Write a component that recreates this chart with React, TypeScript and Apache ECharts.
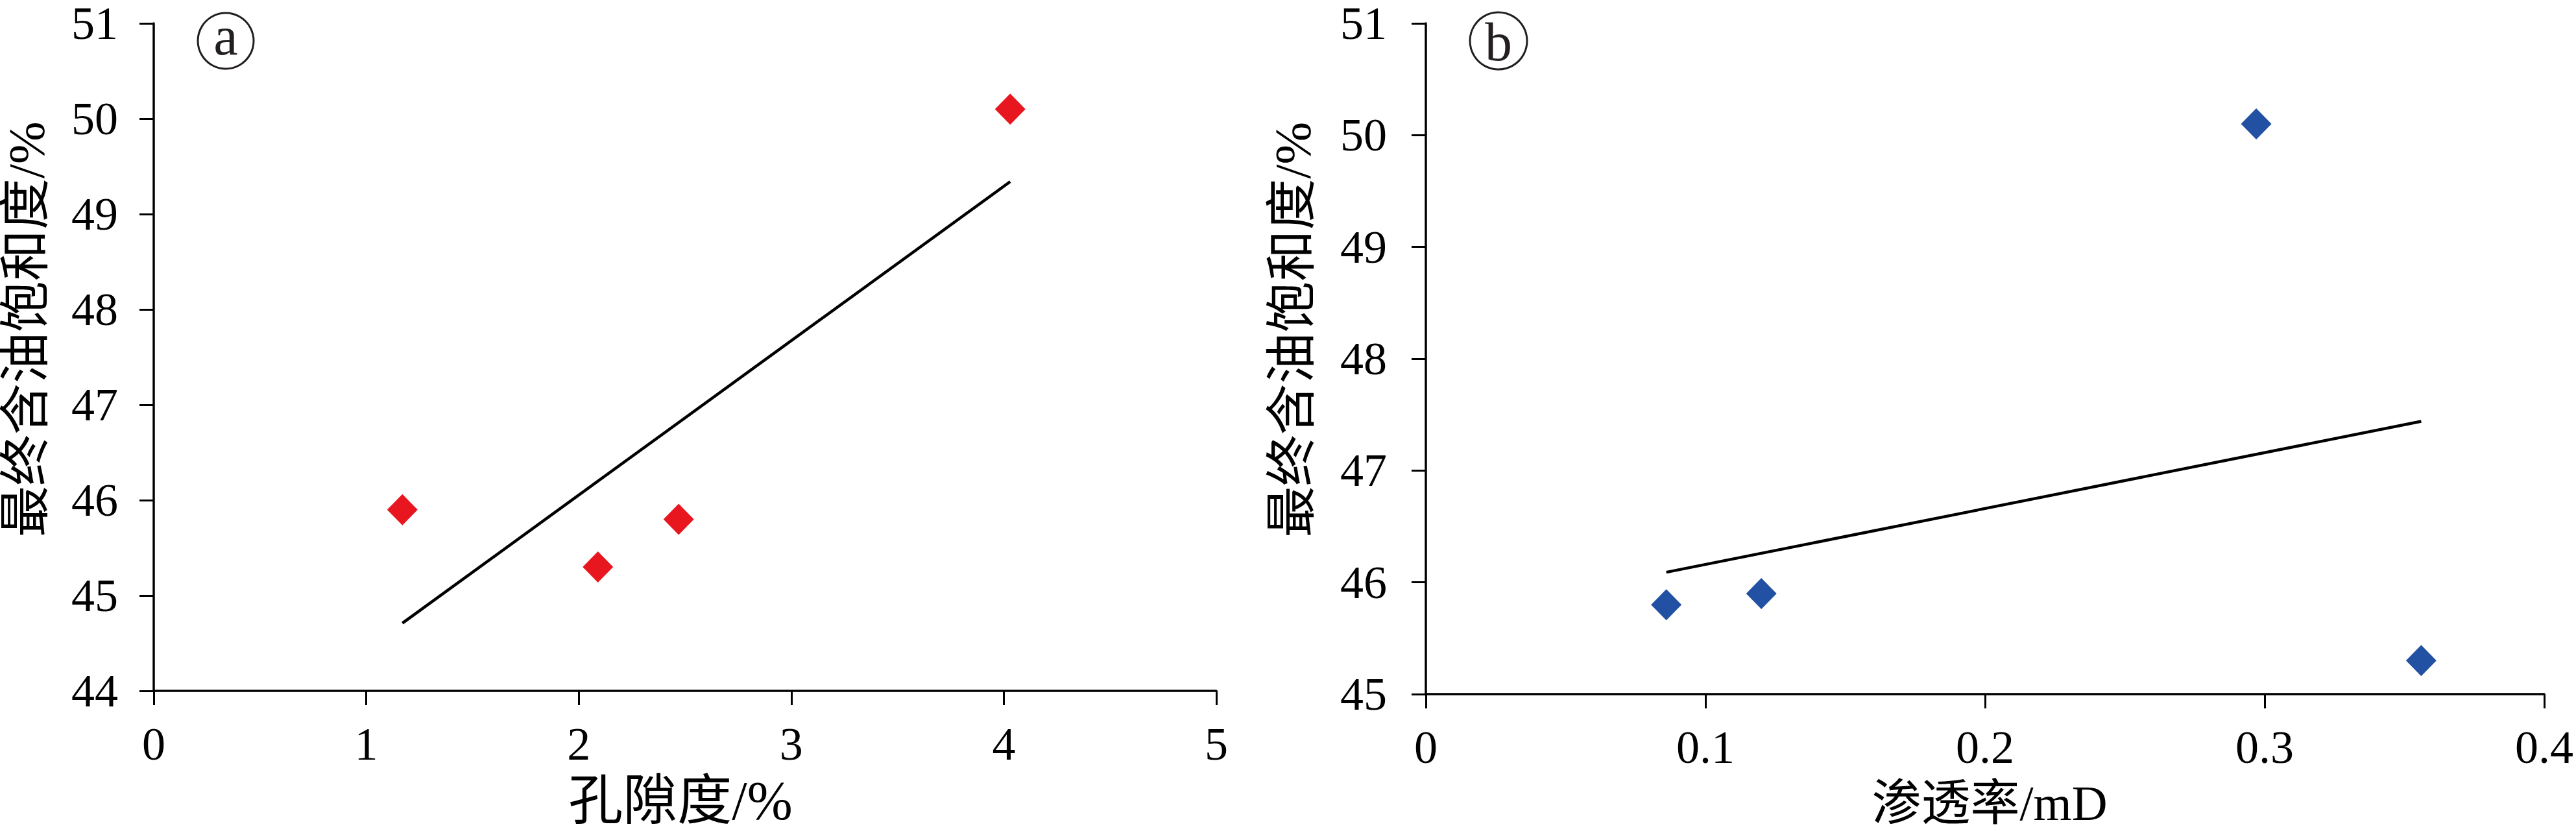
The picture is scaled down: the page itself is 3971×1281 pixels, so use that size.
import React, { useEffect, useRef } from 'react';
import * as echarts from 'echarts';

// ---- data ----
const porosity = [1.17, 2.09, 2.47, 4.03];
const oilSatA = [45.9, 45.3, 45.8, 50.1];
const permeability = [0.086, 0.12, 0.297, 0.356];
const oilSatB = [45.8, 45.9, 50.1, 45.3];
const trendAX = [1.17, 4.03];
const trendAY = [44.71, 49.34];
const trendBX = [0.086, 0.356];
const trendBY = [46.09, 47.44];
const xTicksA = [0, 1, 2, 3, 4, 5];
const yTicksA = [44, 45, 46, 47, 48, 49, 50, 51];
const xTicksB = [0, 0.1, 0.2, 0.3, 0.4];
const yTicksB = [45, 46, 47, 48, 49, 50, 51];
const yName = '最终含油饱和度/%';
const xNameA = '孔隙度/%';
const xNameB = '渗透率/mD';
const panelLabels = ['a', 'b'];

const FONT = "'Liberation Serif', 'Noto Sans CJK SC', serif";
const INK = '#000000';

function axisCommon() {
  return {
    axisLine: { show: true, onZero: false, lineStyle: { color: INK, width: 3.5 } },
    axisTick: { show: true, inside: false, length: 22, lineStyle: { color: INK, width: 3 } },
    splitLine: { show: false },
    axisLabel: { color: INK, fontSize: 72, fontFamily: FONT },
  };
}

function buildOption() {
  const c = axisCommon();
  return {
    animation: false,
    backgroundColor: '#ffffff',
    grid: [
      { left: 236, top: 27, width: 1639, height: 1051 },
      { left: 2198, top: 32, width: 1724, height: 1045 },
    ],
    xAxis: [
      {
        gridIndex: 0, type: 'value',
        min: xTicksA[0], max: xTicksA[xTicksA.length - 1], interval: 1,
        ...c, axisLabel: { ...c.axisLabel, margin: 46 },
        name: xNameA, nameLocation: 'middle', nameGap: 127,
        nameTextStyle: { color: INK, fontSize: 84, fontFamily: FONT, padding: [0, 14, 0, 0] },
      },
      {
        gridIndex: 1, type: 'value',
        min: xTicksB[0], max: xTicksB[xTicksB.length - 1], interval: 0.1,
        ...c, axisLabel: { ...c.axisLabel, margin: 46 },
        name: xNameB, nameLocation: 'middle', nameGap: 130,
        nameTextStyle: { color: INK, fontSize: 76, fontFamily: FONT, padding: [0, 0, 0, 14] },
      },
    ],
    yAxis: [
      {
        gridIndex: 0, type: 'value',
        min: yTicksA[0], max: yTicksA[yTicksA.length - 1], interval: 1,
        ...c, axisLabel: { ...c.axisLabel, margin: 55, lineHeight: 54 },
        name: yName, nameLocation: 'middle', nameGap: 157,
        nameTextStyle: { color: INK, fontSize: 79, fontFamily: FONT, padding: [0, 0, 0, 86] },
      },
      {
        gridIndex: 1, type: 'value',
        min: yTicksB[0], max: yTicksB[yTicksB.length - 1], interval: 1,
        ...c, axisLabel: { ...c.axisLabel, margin: 60, lineHeight: 54 },
        name: yName, nameLocation: 'middle', nameGap: 166,
        nameTextStyle: { color: INK, fontSize: 79, fontFamily: FONT, padding: [0, 0, 0, 90] },
      },
    ],
    series: [
      {
        type: 'line', xAxisIndex: 0, yAxisIndex: 0,
        data: trendAX.map((x, i) => [x, trendAY[i]]),
        symbol: 'none', showSymbol: false,
        lineStyle: { color: INK, width: 4.5 },
      },
      {
        type: 'scatter', xAxisIndex: 0, yAxisIndex: 0,
        data: porosity.map((x, i) => [x, oilSatA[i]]),
        symbol: 'diamond', symbolSize: [47, 48],
        itemStyle: { color: '#E8161F', opacity: 1 },
      },
      {
        type: 'line', xAxisIndex: 1, yAxisIndex: 1,
        data: trendBX.map((x, i) => [x, trendBY[i]]),
        symbol: 'none', showSymbol: false,
        lineStyle: { color: INK, width: 4.5 },
      },
      {
        type: 'scatter', xAxisIndex: 1, yAxisIndex: 1,
        data: permeability.map((x, i) => [x, oilSatB[i]]),
        symbol: 'diamond', symbolSize: [47, 48],
        itemStyle: { color: '#2250A2', opacity: 1 },
      },
    ],
    graphic: [
      { type: 'circle', shape: { cx: 348, cy: 63, r: 43 }, style: { fill: 'none', stroke: '#231f20', lineWidth: 3 } },
      { type: 'text', x: 348, y: 55, style: { text: panelLabels[0], fill: '#231f20', font: "84px 'Liberation Serif'", textAlign: 'center', textVerticalAlign: 'middle' } },
      { type: 'circle', shape: { cx: 2310, cy: 63, r: 44 }, style: { fill: 'none', stroke: '#231f20', lineWidth: 3 } },
      { type: 'text', x: 2310, y: 64, style: { text: panelLabels[1], fill: '#231f20', font: "84px 'Liberation Serif'", textAlign: 'center', textVerticalAlign: 'middle' } },
    ],
  };
}

export default function App() {
  const ref = useRef<HTMLDivElement>(null);
  useEffect(() => {
    if (!ref.current) return;
    const chart = echarts.init(ref.current, null, { renderer: 'svg' });
    chart.setOption(buildOption() as any);
    return () => chart.dispose();
  }, []);
  return (
    <div
      ref={ref}
      style={{ position: 'absolute', left: 0, top: 0, width: 3971, height: 1281, background: '#ffffff' }}
    />
  );
}
